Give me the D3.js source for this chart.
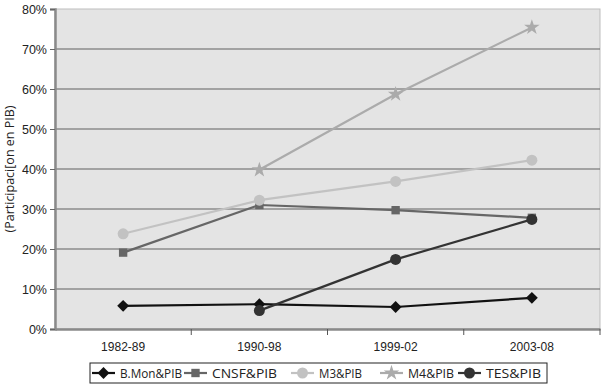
<!DOCTYPE html>
<html><head><meta charset="utf-8">
<script src="https://cdn.jsdelivr.net/npm/d3@7"></script>
<style>body{margin:0;background:#fff}svg{display:block;font-family:"Open Sans","Noto Sans",sans-serif}</style>
</head><body><svg id="c" width="605" height="392"></svg>
<script>
const categories = ["1982-89","1990-98","1999-02","2003-08"];
const bmon = [5.8, 6.2, 5.5, 7.8];
const cnsf = [19.1, 31, 29.7, 27.8];
const m3 = [23.8, 32.2, 36.9, 42.2];
const m4 = [null, 39.8, 58.7, 75.4];
const tes = [null, 4.6, 17.4, 27.4];
const yTicks = [0,10,20,30,40,50,60,70,80];
const seriesNames = ["B.Mon&PIB","CNSF&PIB","M3&PIB","M4&PIB","TES&PIB"];
const yTitle = "(Participaci[on en PIB)";

const series = [
  {name: seriesNames[0], values: bmon, color: "#111", sym: d3.symbolSquare, rot: 45, size: 70},
  {name: seriesNames[1], values: cnsf, color: "#666", sym: d3.symbolSquare, rot: 0, size: 70},
  {name: seriesNames[2], values: m3, color: "#c2c2c2", sym: d3.symbolCircle, rot: 0, size: 95},
  {name: seriesNames[3], values: m4, color: "#ababab", sym: d3.symbolStar, rot: 0, size: 75},
  {name: seriesNames[4], values: tes, color: "#333", sym: d3.symbolCircle, rot: 0, size: 95}
];

const svg = d3.select("#c");
const L = 55, R = 600, T = 9, B = 329;
const x = d3.scaleBand().domain(categories).range([L, R]);
const y = d3.scaleLinear().domain([0, 80]).range([B, T]);

svg.append("rect").attr("x", L).attr("y", T).attr("width", R - L).attr("height", B - T)
  .attr("fill", "#e4e4e4").attr("stroke", "#bdbdbd").attr("stroke-width", 1);

svg.append("g").selectAll("line").data(yTicks.filter(t => t > 0 && t < 80)).join("line")
  .attr("x1", L).attr("x2", R).attr("y1", d => y(d)).attr("y2", d => y(d))
  .attr("stroke", "#606060").attr("stroke-width", 1);

const ya = svg.append("g").attr("transform", `translate(${L},0)`)
  .call(d3.axisLeft(y).tickValues(yTicks).tickFormat(d => d + "%").tickSize(5).tickPadding(3));
ya.select(".domain").attr("stroke", "#8a8a8a").attr("stroke-width", 2.5);
ya.selectAll(".tick line").attr("stroke", "#666");
ya.selectAll("text").attr("font-size", 12.5).attr("fill", "#222");

const xa = svg.append("g").attr("transform", `translate(0,${B})`)
  .call(d3.axisBottom(x).tickSize(0).tickPadding(13));
xa.select(".domain").attr("stroke", "#8a8a8a").attr("stroke-width", 2.5);
xa.selectAll("text").attr("font-size", 12).attr("fill", "#222");
svg.append("g").selectAll("line").data(categories.slice(1)).join("line")
  .attr("x1", d => x(d)).attr("x2", d => x(d)).attr("y1", B).attr("y2", B + 6)
  .attr("stroke", "#555");
svg.append("line").attr("x1", R).attr("x2", R).attr("y1", B).attr("y2", B + 6).attr("stroke", "#555");

svg.append("text").attr("transform", `translate(14,${(T + B) / 2}) rotate(-90)`)
  .attr("text-anchor", "middle").attr("font-size", 12.5).attr("fill", "#222").text(yTitle);

const line = d3.line().defined(d => d.v != null).x(d => x(d.c) + x.bandwidth() / 2).y(d => y(d.v));
series.forEach(s => {
  const pts = categories.map((c, i) => ({c, v: s.values[i]}));
  svg.append("path").datum(pts).attr("d", line).attr("fill", "none")
    .attr("stroke", s.color).attr("stroke-width", 2.2);
  svg.append("g").selectAll("path").data(pts.filter(d => d.v != null)).join("path")
    .attr("d", d3.symbol().type(s.sym).size(s.size))
    .attr("transform", d => `translate(${x(d.c) + x.bandwidth() / 2},${y(d.v)}) rotate(${s.rot})`)
    .attr("fill", s.color);
});

const lg = svg.append("g");
lg.append("rect").attr("x", 90).attr("y", 363).attr("width", 457).attr("height", 20)
  .attr("fill", "#fff").attr("stroke", "#222").attr("stroke-width", 1);
const lx = [92, 184, 291, 380, 458];
const lw = [62, 65, 43, 46, 55];
series.forEach((s, i) => {
  const g = lg.append("g").attr("transform", `translate(${lx[i]},373)`);
  g.append("line").attr("x1", 0).attr("x2", 23).attr("stroke", s.color).attr("stroke-width", 2.2);
  g.append("path").attr("d", d3.symbol().type(s.sym).size(s.size)).attr("transform", `translate(11.5,0) rotate(${s.rot})`).attr("fill", s.color);
  g.append("text").attr("x", 28).attr("y", 4.5).attr("font-size", 12.5).attr("fill", "#222")
    .attr("textLength", lw[i]).attr("lengthAdjust", "spacingAndGlyphs").text(s.name);
});
</script></body></html>
